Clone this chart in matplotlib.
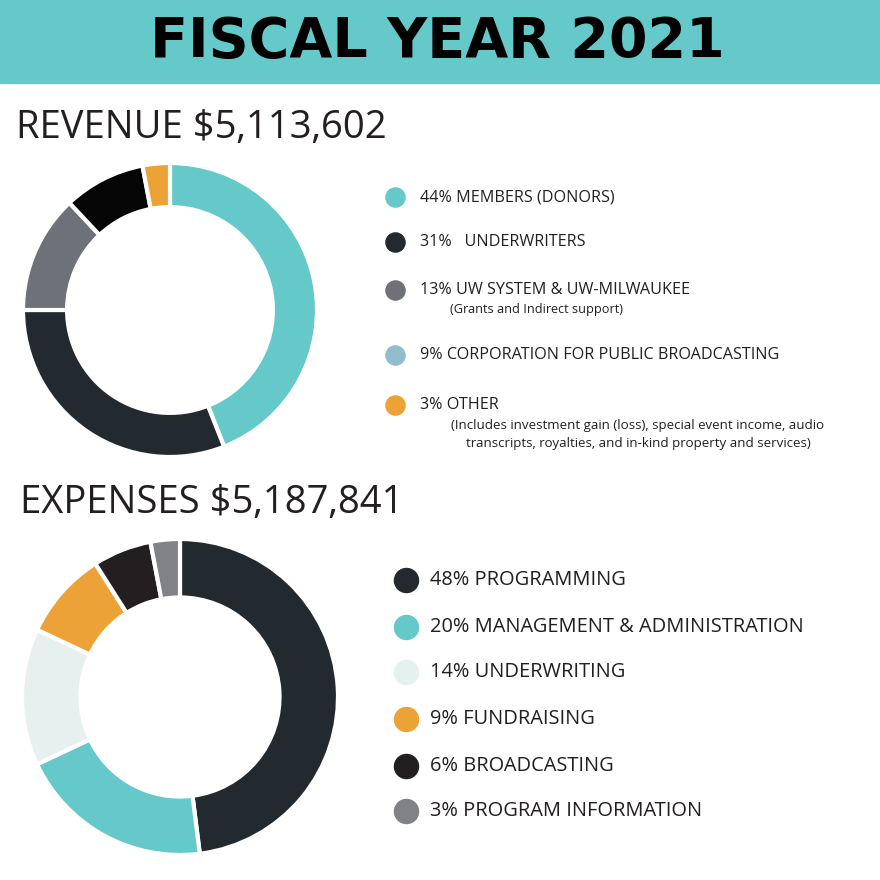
import matplotlib.pyplot as plt

rev_labels = ["44% MEMBERS (DONORS)", "31%   UNDERWRITERS", "13% UW SYSTEM & UW-MILWAUKEE",
              "9% CORPORATION FOR PUBLIC BROADCASTING", "3% OTHER"]
rev_values = [44, 31, 13, 9, 3]
rev_slice_colors = ["#66c9c9", "#222a30", "#6f7178", "#050505", "#eda238"]
rev_legend_colors = ["#66c9c9", "#222a30", "#6f7178", "#93bccc", "#eda238"]
rev_notes = ["", "", "(Grants and Indirect support)", "",
             "(Includes investment gain (loss), special event income, audio\ntranscripts, royalties, and in-kind property and services)"]

exp_labels = ["48% PROGRAMMING", "20% MANAGEMENT & ADMINISTRATION", "14% UNDERWRITING",
              "9% FUNDRAISING", "6% BROADCASTING", "3% PROGRAM INFORMATION"]
exp_values = [48, 20, 14, 9, 6, 3]
exp_colors = ["#222a30", "#66c9c9", "#e6f1ef", "#eda238", "#231f20", "#808285"]

W = 880
fig = plt.figure(figsize=(8.8, 8.8), dpi=100)
bg = fig.add_axes([0, 0, 1, 1])
bg.set_xlim(0, W)
bg.set_ylim(W, 0)
bg.axis("off")

bg.add_patch(plt.Rectangle((0, 0), W, 83, color="#66c9c9"))
bg.text(437, 42, "FISCAL YEAR 2021", ha="center", va="center", fontsize=40,
        fontweight="bold", family="DejaVu Sans", color="black")
bg.text(16, 128, "REVENUE $5,113,602", ha="left", va="center", fontsize=27.5,
        family="Open Sans", color="#231f20")
bg.text(20, 503, "EXPENSES $5,187,841", ha="left", va="center", fontsize=27.5,
        family="Open Sans", color="#231f20")


def donut(cx, cy, r, width, vals, cols):
    ax = fig.add_axes([(cx - r) / W, 1 - (cy + r) / W, 2 * r / W, 2 * r / W])
    ax.pie(vals, colors=cols, startangle=90, counterclock=False, radius=1,
           wedgeprops=dict(width=width, edgecolor="white", linewidth=3))
    ax.set_xlim(-1, 1)
    ax.set_ylim(-1, 1)
    ax.axis("off")


donut(170, 310, 147, 0.30, rev_values, rev_slice_colors)
donut(180, 697, 158, 0.37, exp_values, exp_colors)

rev_y = [197, 242, 290, 355, 405]
for y, lab, col, note in zip(rev_y, rev_labels, rev_legend_colors, rev_notes):
    bg.scatter(395, y, s=190, color=col, zorder=3)
    bg.text(420, y, lab, ha="left", va="center", fontsize=11.6, family="Open Sans", color="#231f20")
    if note:
        if "\n" in note:
            bg.text(638, y + 30, note, ha="center", va="center", fontsize=9.6,
                    family="Open Sans", color="#231f20", linespacing=1.5)
        else:
            bg.text(450, y + 20, note, ha="left", va="center", fontsize=9.2,
                    family="Open Sans", color="#231f20")

exp_y = [580, 627, 672, 719, 766, 811]
for y, lab, col in zip(exp_y, exp_labels, exp_colors):
    bg.scatter(406, y, s=300, color=col, zorder=3)
    bg.text(430, y, lab, ha="left", va="center", fontsize=14.4, family="Open Sans", color="#231f20")

fig.savefig("out.png", dpi=100)
